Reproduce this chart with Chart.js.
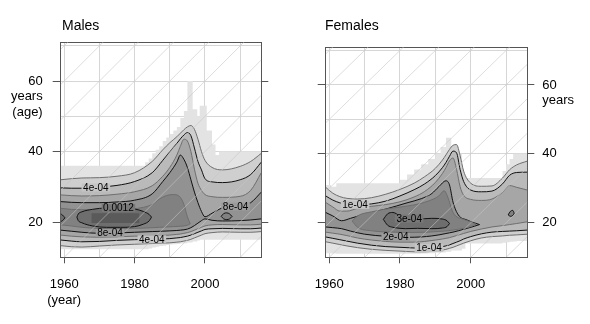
<!DOCTYPE html>
<html>
<head>
<meta charset="utf-8">
<script src="https://cdn.jsdelivr.net/npm/chart.js@4.4.1/dist/chart.umd.min.js"></script>
<style>
  body { margin: 0; background: #fff; }
  #wrap { position: relative; width: 590px; height: 324px; background: #fff; }
  canvas { position: absolute; top: 0; }
  #males { left: 0; }
  #females { left: 295px; }
  .title { position: absolute; top: 17px; font: 14px 'Liberation Sans', Arial, sans-serif; line-height: 16px; color: #000; }
</style>
</head>
<body>
<div id="wrap">
  <canvas id="males" width="295" height="324"></canvas>
  <canvas id="females" width="295" height="324"></canvas>
  <div class="title" style="left:62px">Males</div>
  <div class="title" style="left:325px">Females</div>
</div>
<script>
// Ejes comunes (año x edad)
const yearMin = 1959, yearMax = 2016;
const ageMin = 10, ageMax = 71;
const yearGrid = [1960, 1970, 1980, 1990, 2000, 2010];
const ageGrid = [10, 20, 30, 40, 50, 60, 70];
const ageTicks = [20, 40, 60];
const cohorts = [1890, 1900, 1910, 1920, 1930, 1940, 1950, 1960, 1970, 1980, 1990, 2000];

// Males: trama clara de fondo
const mRasterYears = [1959, 1983, 1984, 1985, 1986, 1987, 1988, 1989, 1990, 1991, 1992, 1993, 1994, 1995, 1996.5, 1997.8, 1998.5, 2000.5, 2002, 2003, 2004, 2010, 2016];
const mRasterTop = [35, 36, 37, 38, 39.5, 40.5, 41.5, 43, 44, 45, 46, 47, 49.5, 51.5, 60, 52, 50, 53, 46, 42, 39, 40, 40];
const mRasterBottom = [10, 12.3, 12.3, 12.5, 12.8, 13, 13.2, 13.3, 13.5, 13.6, 13.7, 13.8, 13.9, 14, 14.2, 14.5, 14.8, 15, 15, 15, 15, 15, 15];

// Males: contornos abiertos (2e-04 ... 8e-04)
const mYears = [1959, 1962, 1965, 1970, 1975, 1980, 1985, 1988, 1990, 1992, 1993, 1994, 1995, 1996, 1997, 1998, 1999, 2000, 2002, 2005, 2010, 2013, 2016];
const m2Upper = [32, 32.3, 32.5, 32.6, 33, 34, 37.2, 40.5, 42.5, 44.2, 45.2, 46.2, 47, 47.4, 46.3, 43.5, 40, 37.5, 35.5, 34.8, 35.8, 37.2, 39.5];
const m2Lower = [13.3, 13, 12.9, 13.2, 13.5, 13.7, 13.9, 14, 14.1, 14.3, 14.4, 14.6, 14.8, 15.1, 15.5, 15.9, 16.3, 16.7, 17, 17.2, 17.1, 17.1, 17.3];
const m4Upper = [29.7, 29.6, 29.6, 29.9, 30.4, 31.5, 34, 37.5, 40, 42.3, 43.6, 44.7, 45.4, 44.5, 41, 37.2, 34.8, 32.3, 31.4, 31.2, 32, 33.5, 37];
const m4Lower = [14.9, 14.6, 14.4, 14.5, 14.8, 15, 15.1, 15.2, 15.3, 15.5, 15.6, 15.8, 16, 16.3, 16.7, 17.1, 17.5, 17.9, 18.1, 18.2, 18.1, 18.1, 18.3];
const m6Upper = [27.7, 27.5, 27.4, 27.5, 27.9, 28.6, 30.3, 33, 35.5, 39, 41.5, 43.5, 43, 40, 35, 31, 29, 27.8, 27.2, 27, 27.3, 29, 34];
const m6Lower = [16.3, 16, 15.8, 15.7, 15.8, 16, 16.1, 16.2, 16.3, 16.5, 16.6, 16.8, 17, 17.3, 17.7, 18.1, 18.5, 18.9, 19.2, 19.3, 19.2, 19.2, 19.4];
const m8Upper = [25.8, 25.6, 25.5, 25.5, 25.7, 26.2, 28, 31.5, 34, 37, 39, 37.8, 35.5, 32, 28.5, 25.5, 23, 21.5, 22.5, 24, 24.5, 25.5, 28.5];
const m8Lower = [17.7, 17.4, 17.1, 16.8, 16.9, 17.1, 17.3, 17.4, 17.5, 17.6, 17.7, 17.8, 18, 18.4, 19, 19.7, 20.4, 20.9, 20.5, 20.3, 20.4, 20.6, 20.9];

// Males: contornos cerrados (1e-03, 0.0012)
const m10Years = [1959, 1962, 1965, 1970, 1975, 1980, 1985, 1987, 1989, 1991, 1993, 1994, 1995, 1995.8];
const m10Upper = [23.9, 23.6, 23.5, 23.5, 23.6, 23.8, 25, 26.5, 27.5, 27.8, 27, 25, 21.5, 19.5];
const m10Lower = [19.2, 18.9, 18.5, 18.2, 18.1, 18.2, 18.4, 18.5, 18.6, 18.7, 18.8, 18.9, 19.1, 19.5];
const m10bYears = [2004.6, 2005.3, 2006.2, 2007, 2007.7];
const m10bUpper = [21.6, 22.4, 22.6, 22.3, 21.6];
const m10bLower = [21.6, 20.9, 20.7, 20.9, 21.6];
const m12Years = [1963.6, 1964, 1965, 1968, 1972, 1976, 1980, 1982.5, 1984.2, 1984.8];
const m12Upper = [21.4, 22.3, 22.9, 23.6, 24, 24, 23.7, 23, 22.1, 21.4];
const m12Lower = [21.4, 20.4, 19.8, 18.9, 18.5, 18.5, 18.7, 19.4, 20.4, 21.4];
const m12bYears = [1959, 1959.5, 1960.2];
const m12bUpper = [22.3, 22, 21.2];
const m12bLower = [20.1, 20.4, 21.2];
const mPatchYears = [1967.7, 1981.4];
const mPatchTop = [22.5, 22.5];
const mPatchBottom = [19.7, 19.7];

const mLabelText = ['4e-04', '0.0012', '8e-04', '4e-04', '8e-04'];
const mLabelYear = [1969, 1975.4, 1973, 1984.9, 2008.7];
const mLabelAge = [29.8, 24, 16.9, 15.1, 24.4];
const mLabelBand = [2, 6, 4, 2, 4];

// Females: trama clara de fondo
const fRasterYears = [1959, 1960.5, 1962, 1980, 1982, 1984, 1986, 1988, 1990, 1991.5, 1993, 1994.5, 1997.5, 1998.5, 2009, 2010, 2011, 2012, 2013, 2016];
const fRasterTop = [34, 31, 30.5, 31.5, 32.5, 34, 35.5, 37, 38.5, 40, 42, 44.7, 40, 30.5, 33, 35, 37, 38.5, 40, 40];
const fRasterBottom = [11.3, 11.2, 11.1, 11, 11, 11, 11, 11.1, 11.2, 11.3, 11.4, 11.6, 12, 12.5, 14, 14.2, 14.4, 14.5, 14.6, 14.7];

// Females: contornos abiertos (0.5e-04 ... 1.5e-04)
const fYears = [1959, 1961, 1963, 1965, 1968, 1972, 1976, 1980, 1984, 1987, 1990, 1992, 1993, 1994, 1995, 1996, 1997, 1998, 2000, 2003, 2006, 2009, 2011, 2013, 2016];
const f05Upper = [30.3, 28.6, 27.6, 27.1, 26.9, 27.3, 28.3, 29.7, 31.5, 33.4, 35.8, 38.2, 39.7, 41.3, 42.5, 42.7, 39.5, 35, 31.5, 30.6, 30.7, 33, 35.4, 36.8, 37.9];
const f05Lower = [14.5, 14.1, 13.7, 13.3, 12.8, 12.3, 12, 11.8, 11.6, 11.6, 11.8, 12.1, 12.3, 12.6, 12.9, 13.3, 13.7, 14.1, 14.8, 15.6, 16, 16.2, 16.4, 16.5, 16.7];
const f10Upper = [27.8, 26.6, 25.8, 25.4, 25.2, 25.5, 26.3, 27.8, 29.6, 31.3, 33.7, 36, 37.5, 39.3, 40.8, 40.3, 35.5, 32, 29.5, 29, 29.2, 31.3, 33.8, 34.6, 34.7];
const f10Lower = [15.9, 15.5, 15.1, 14.7, 14.1, 13.5, 13.1, 12.9, 12.7, 12.6, 12.8, 13.1, 13.3, 13.6, 14, 14.4, 14.8, 15.3, 16, 16.8, 17.3, 17.5, 17.6, 17.7, 17.9];
const f15Upper = [25.9, 24.6, 23.4, 23.4, 24.2, 24.8, 25.3, 26.1, 27.5, 29.1, 31.7, 34.3, 36, 38, 38.8, 35.5, 30.5, 28, 26.8, 26.5, 26.9, 28.8, 30.8, 30.3, 29.5];
const f15Lower = [17.3, 17, 16.7, 16.3, 15.6, 15, 14.6, 14.4, 14.4, 14.6, 15, 15.3, 15.5, 15.7, 16, 16.3, 16.6, 16.9, 17.5, 18.2, 18.8, 19.2, 19.5, 19.8, 20.3];

// Females: contornos cerrados (2e-04, 2.5e-04, 3e-04)
const f20Years = [1959, 1961, 1963.5, 1966, 1970, 1976, 1982, 1986, 1989, 1991, 1993, 1994, 1995, 1996.5, 1999, 2001, 2002.5];
const f20Upper = [23, 22, 20.6, 21.3, 22.5, 24, 25.8, 27, 28.5, 30.5, 32.2, 31, 26, 22.3, 20.8, 20, 19.5];
const f20Lower = [18.8, 18.6, 18.3, 17.6, 16.7, 16.1, 15.8, 15.9, 16.2, 16.5, 16.9, 17.1, 17.3, 17.7, 18.4, 19, 19.5];
const f25Years = [1966.5, 1968, 1972, 1978, 1984, 1988, 1991, 1992.5, 1993.5, 1995, 1998, 2000, 2001.5];
const f25Upper = [20.5, 22, 23.2, 24.3, 25.2, 26.3, 27.8, 29.3, 27.5, 23, 21, 20.3, 19.6];
const f25Lower = [20.5, 18.7, 17.7, 17.3, 17.2, 17.3, 17.5, 17.6, 17.7, 17.9, 18.4, 18.9, 19.6];
const f30Years = [1975.3, 1976.5, 1978, 1980, 1981.5, 1985, 1989, 1992, 1993.3, 1994];
const f30Upper = [21, 22.6, 23, 22, 21.3, 21.1, 21.3, 21.1, 20.6, 19.8];
const f30Lower = [21, 19.3, 18.7, 18.4, 18.3, 18.4, 18.3, 18.5, 18.9, 19.8];
const f25bYears = [2010.6, 2011.2, 2011.9, 2012.3];
const f25bUpper = [22.3, 23.3, 23.6, 22.8];
const f25bLower = [22.3, 21.9, 22.1, 22.8];

const fLabelText = ['1e-04', '3e-04', '2e-04', '1e-04'];
const fLabelYear = [1967.3, 1982.6, 1978.8, 1988.2];
const fLabelAge = [25.2, 21.2, 15.9, 12.7];
const fLabelBand = [2, 6, 4, 2];

// Estilos
const grays = ['#e3e3e3', '#cfcfcf', '#bababa', '#a6a6a6', '#929292', '#818181', '#6e6e6e', '#5a5a5a'];
const blackLine = '#111111';
const grayLine = '#6e6e6e';
const gridColor = '#d6d6d6';
const axisColor = '#555555';
const clear = 'rgba(0,0,0,0)';
Chart.defaults.font.family = "'Liberation Sans', Arial, sans-serif";

function mezclar(a, b) {
    const p = h => [1, 3, 5].map(i => parseInt(h.substr(i, 2), 16));
    const ca = p(a), cb = p(b);
    return 'rgb(' + ca.map((v, i) => Math.round((v + cb[i]) / 2)).join(',') + ')';
}

// Banda rellena entre un borde inferior y uno superior
function banda(lista, years, upper, lower, fillColor, lineColor, order, stepped) {
    const base = { borderColor: lineColor, order: order, stepped: stepped || false };
    lista.push({ ...base, data: years.map((x, i) => ({ x: x, y: lower[i] })), fill: false });
    lista.push({ ...base, data: years.map((x, i) => ({ x: x, y: upper[i] })), fill: '-1', backgroundColor: fillColor });
}

function cohortes(lista) {
    cohorts.forEach(c => lista.push({
        data: [{ x: yearMin, y: yearMin - c }, { x: yearMax, y: yearMax - c }],
        borderColor: '#c6c6c6', borderWidth: 0.6, fill: false, order: 0, cubicInterpolationMode: 'default'
    }));
}

function etiquetas(texts, years, ages, bands) {
    return {
        id: 'etiquetas',
        afterDraw(chart) {
            const { ctx, scales: { x, y } } = chart;
            ctx.save();
            ctx.font = "10px 'Liberation Sans', Arial, sans-serif";
            ctx.textAlign = 'center';
            ctx.textBaseline = 'middle';
            texts.forEach((t, i) => {
                const px = x.getPixelForValue(years[i]);
                const py = y.getPixelForValue(ages[i]);
                const w = ctx.measureText(t).width + 3;
                ctx.fillStyle = mezclar(grays[bands[i] - 1], grays[bands[i]]);
                ctx.fillRect(px - w / 2, py - 4, w, 8);
                ctx.fillStyle = '#000';
                ctx.fillText(t, px, py + 0.5);
            });
            ctx.restore();
        }
    };
}

function escalas(esMale) {
    const tickFont = { size: 13 };
    return {
        x: {
            type: 'linear', position: 'bottom', min: yearMin, max: yearMax, z: 1,
            afterBuildTicks: s => { s.ticks = yearGrid.map(v => ({ value: v })); },
            afterFit: s => { s.height = 66.7; },
            grid: { color: gridColor, tickLength: 6, tickColor: c => (c.tick && c.tick.value % 20 === 0) ? axisColor : clear },
            border: { color: axisColor },
            ticks: {
                autoSkip: false, maxRotation: 0, padding: 13.4, color: '#000', font: tickFont,
                callback: v => v % 20 !== 0 ? '' : (esMale && v === 1960 ? ['1960', '(year)'] : String(v))
            }
        },
        xTop: {
            type: 'linear', position: 'top', min: yearMin, max: yearMax,
            afterFit: s => { s.height = 0; },
            grid: { display: false, drawTicks: false },
            border: { color: axisColor },
            ticks: { display: false }
        },
        y: {
            type: 'linear', position: 'left', min: ageMin, max: ageMax, z: 1,
            afterBuildTicks: s => { s.ticks = ageGrid.map(v => ({ value: v })); },
            afterFit: s => { s.width = esMale ? 60.7 : 30.7; },
            grid: { color: gridColor, tickLength: 8, tickColor: c => (c.tick && ageTicks.includes(c.tick.value)) ? axisColor : clear },
            border: { color: axisColor },
            ticks: {
                display: esMale, autoSkip: false, padding: 10, color: '#000', font: tickFont,
                callback: v => !ageTicks.includes(v) ? '' : (v === 60 ? ['', '', '60', 'years', '(age)'] : String(v))
            }
        },
        yRight: {
            type: 'linear', position: 'right', min: ageMin, max: ageMax, z: 1,
            afterBuildTicks: s => { s.ticks = ageTicks.map(v => ({ value: v })); },
            afterFit: s => { s.width = esMale ? 33.7 : 62.7; },
            grid: { drawOnChartArea: false, tickLength: 7, color: axisColor },
            border: { color: axisColor },
            ticks: {
                display: !esMale, autoSkip: false, padding: 8, color: '#000', font: tickFont,
                callback: v => v === 60 ? [' ', ' ', '60', 'years', ' '] : String(v)
            }
        }
    };
}

function opciones(esMale) {
    return {
        responsive: false,
        animation: false,
        events: [],
        layout: { padding: { top: 42.3, left: 0, right: 0, bottom: 0 } },
        plugins: { legend: { display: false }, tooltip: { enabled: false }, title: { display: false } },
        elements: {
            point: { radius: 0 },
            line: { borderWidth: 1, cubicInterpolationMode: 'monotone' }
        },
        scales: escalas(esMale)
    };
}

// Panel Males
const mSets = [];
banda(mSets, mRasterYears, mRasterTop, mRasterBottom, grays[0], clear, 20, 'after');
banda(mSets, mYears, m2Upper, m2Lower, grays[1], grayLine, 19);
banda(mSets, mYears, m4Upper, m4Lower, grays[2], blackLine, 18);
banda(mSets, mYears, m6Upper, m6Lower, grays[3], grayLine, 17);
banda(mSets, mYears, m8Upper, m8Lower, grays[4], blackLine, 16);
banda(mSets, m10Years, m10Upper, m10Lower, grays[5], grayLine, 15);
banda(mSets, m10bYears, m10bUpper, m10bLower, grays[5], blackLine, 15);
banda(mSets, m12Years, m12Upper, m12Lower, grays[6], blackLine, 14);
banda(mSets, m12bYears, m12bUpper, m12bLower, grays[6], blackLine, 14);
banda(mSets, mPatchYears, mPatchTop, mPatchBottom, grays[7], clear, 13, 'after');
cohortes(mSets);

new Chart(document.getElementById('males'), {
    type: 'line',
    data: { datasets: mSets },
    options: opciones(true),
    plugins: [etiquetas(mLabelText, mLabelYear, mLabelAge, mLabelBand)]
});

// Panel Females
const fSets = [];
banda(fSets, fRasterYears, fRasterTop, fRasterBottom, grays[0], clear, 20, 'after');
banda(fSets, fYears, f05Upper, f05Lower, grays[1], grayLine, 19);
banda(fSets, fYears, f10Upper, f10Lower, grays[2], blackLine, 18);
banda(fSets, fYears, f15Upper, f15Lower, grays[3], grayLine, 17);
banda(fSets, f20Years, f20Upper, f20Lower, grays[4], blackLine, 16);
banda(fSets, f25Years, f25Upper, f25Lower, grays[5], grayLine, 15);
banda(fSets, f25bYears, f25bUpper, f25bLower, grays[5], blackLine, 15);
banda(fSets, f30Years, f30Upper, f30Lower, grays[6], blackLine, 14);
cohortes(fSets);

new Chart(document.getElementById('females'), {
    type: 'line',
    data: { datasets: fSets },
    options: opciones(false),
    plugins: [etiquetas(fLabelText, fLabelYear, fLabelAge, fLabelBand)]
});
</script>
</body>
</html>
